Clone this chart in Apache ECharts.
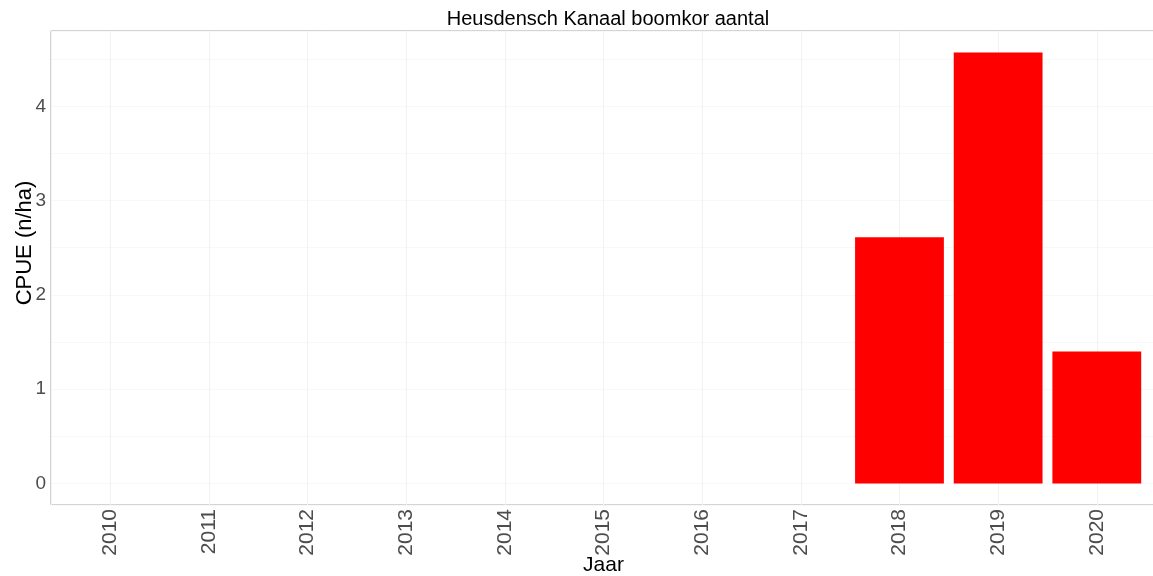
<!DOCTYPE html>
<html>
<head>
<meta charset="utf-8">
<script src="https://cdn.jsdelivr.net/npm/echarts@6/dist/echarts.min.js"></script>
<style>
html,body{margin:0;padding:0;background:#fff;}
#chart{width:1153px;height:576px;}
</style>
</head>
<body>
<div id="chart"></div>
<script>
var titleText = 'Heusdensch Kanaal boomkor aantal';
var xAxisTitle = 'Jaar';
var yAxisTitle = 'CPUE (n/ha)';
var years = [2010, 2011, 2012, 2013, 2014, 2015, 2016, 2017, 2018, 2019, 2020];
var cpue = [0, 0, 0, 0, 0, 0, 0, 0, 2.61, 4.57, 1.40];

var seriesData = years.map(function (y, i) { return [y, cpue[i]]; });
var yMaxData = Math.max.apply(null, cpue);
var pad = yMaxData * 0.05;
var yMin = -pad, yMax = yMaxData + pad;

function intOnly(v) {
  return Math.abs(v - Math.round(v)) < 1e-6 ? String(Math.round(v)) : '';
}

var chart = echarts.init(document.getElementById('chart'), null, {renderer: 'canvas'});
var font = 'Liberation Sans, Arial, sans-serif';
chart.setOption({
  animation: false,
  backgroundColor: '#ffffff',
  title: {
    text: titleText,
    left: 603,
    top: 4,
    textAlign: 'center',
    textStyle: {fontFamily: font, fontSize: 20, fontWeight: 'normal', color: '#000000'}
  },
  grid: {
    left: 51, top: 31, right: -3, bottom: 71,
    outerBoundsMode: 'none',
    containLabel: false,
    show: true, borderColor: '#a8a8a8', borderWidth: 1, backgroundColor: 'transparent'
  },
  xAxis: {
    type: 'value',
    min: years[0] - 0.6,
    max: years[years.length - 1] + 0.6,
    splitNumber: years.length,
    name: xAxisTitle,
    nameLocation: 'middle',
    nameGap: 50,
    nameMoveOverlap: false,
    nameTextStyle: {fontFamily: font, fontSize: 21, color: '#000000'},
    axisLine: {show: false},
    axisTick: {show: false},
    axisLabel: {
      rotate: 90,
      margin: 4,
      fontFamily: font,
      fontSize: 21,
      color: '#4d4d4d',
      showMinLabel: false,
      showMaxLabel: false,
      formatter: intOnly
    },
    splitLine: {show: true, lineStyle: {color: '#f2f2f2', width: 1}}
  },
  yAxis: [{
    type: 'value',
    min: yMin,
    max: yMax,
    splitNumber: 5,
    name: yAxisTitle,
    nameLocation: 'middle',
    nameGap: 15,
    nameMoveOverlap: false,
    nameRotate: 90,
    nameTextStyle: {fontFamily: font, fontSize: 22, color: '#000000', padding: [0, 0, 0, 50]},
    axisLine: {show: false},
    axisTick: {show: false},
    axisLabel: {
      margin: 5,
      fontFamily: font,
      fontSize: 19,
      color: '#4d4d4d',
      showMinLabel: false,
      showMaxLabel: false,
      formatter: intOnly
    },
    splitLine: {show: true, lineStyle: {color: '#efefef', width: 1}}
  }, {
    type: 'value',
    min: yMin,
    max: yMax,
    splitNumber: 10,
    position: 'left',
    axisLine: {show: false},
    axisTick: {show: false},
    axisLabel: {show: false},
    splitLine: {show: true, lineStyle: {color: '#f8f8f8', width: 1}}
  }],
  series: [{
    type: 'bar',
    data: seriesData,
    barWidth: 88.8,
    itemStyle: {color: '#ff0000'},
    silent: true,
    z: 10
  }]
});
</script>
</body>
</html>
